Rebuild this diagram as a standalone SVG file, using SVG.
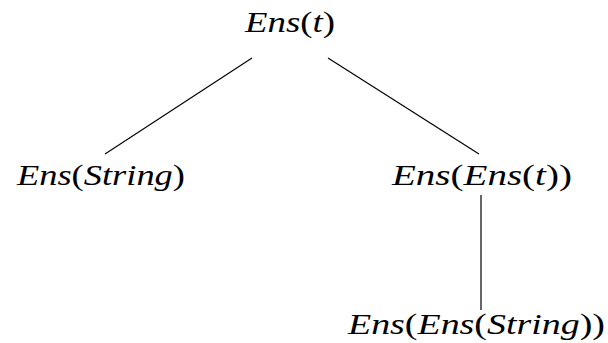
<svg xmlns="http://www.w3.org/2000/svg" width="608" height="343" viewBox="0 0 608 343">
<style>
.t{font-family:'Liberation Serif',serif;font-style:italic;font-size:30px;fill:#000}
.u{font-style:normal}
.e{stroke:#000;stroke-width:1.2;fill:none}
</style>
<rect width="608" height="343" fill="#fff"/>
<g id="connectors">
<line class="e" x1="252" y1="58" x2="105" y2="154"/>
<line class="e" x1="328" y1="58" x2="479" y2="154"/>
<line class="e" x1="481" y1="195" x2="481" y2="310"/>
</g>
<g id="n1"><text class="t" x="245" y="32" textLength="90" lengthAdjust="spacingAndGlyphs">Ens<tspan class="u">(</tspan>t<tspan class="u">)</tspan></text></g>
<g id="n2"><text class="t" x="17" y="185" textLength="168" lengthAdjust="spacingAndGlyphs">Ens<tspan class="u">(</tspan>String<tspan class="u">)</tspan></text></g>
<g id="n3"><text class="t" x="392" y="185" textLength="180" lengthAdjust="spacingAndGlyphs">Ens<tspan class="u">(</tspan>Ens<tspan class="u">(</tspan>t<tspan class="u">))</tspan></text></g>
<g id="n4"><text class="t" x="348" y="334" textLength="257" lengthAdjust="spacingAndGlyphs">Ens<tspan class="u">(</tspan>Ens<tspan class="u">(</tspan>String<tspan class="u">))</tspan></text></g>
</svg>
